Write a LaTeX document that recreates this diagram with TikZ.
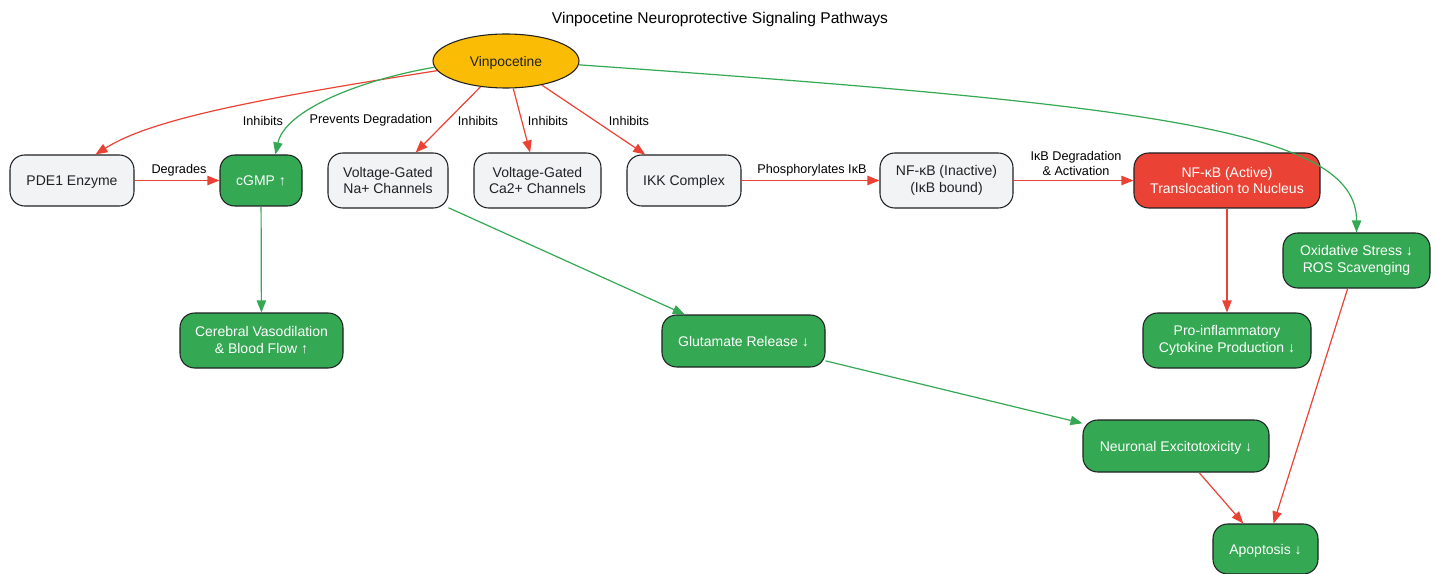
\documentclass[tikz,border=0pt]{standalone}
\usepackage{fontspec}
\setmainfont{Liberation Sans}
\usetikzlibrary{arrows.meta,shapes.geometric}
\definecolor{gred}{HTML}{EA4335}
\definecolor{ggreen}{HTML}{34A853}
\definecolor{ggold}{HTML}{FBBC05}
\definecolor{ggrey}{HTML}{F1F3F4}
\definecolor{gdark}{HTML}{202124}
\begin{document}
\begin{tikzpicture}[x=0.75pt,y=-0.75pt,
 box/.style={rounded corners=11pt, draw=gdark, line width=0.8pt, align=center, font=\fontsize{10.5}{12.7}\selectfont, inner sep=0pt},
 one/.style={text depth=0pt},
 greybox/.style={box, fill=ggrey, text=gdark},
 greenbox/.style={box, fill=ggreen, text=white},
 redbox/.style={box, fill=gred, text=white},
 arr/.style={-{Triangle[length=9pt,width=7pt]}, line width=0.9pt},
 redarr/.style={arr, draw=gred},
 greenarr/.style={arr, draw=ggreen},
 lbl/.style={font=\fontsize{9.5}{11.25}\selectfont, text=black, inner sep=0pt, align=center}]
\useasboundingbox[fill=white] (0,0) rectangle (1436,574);

\node[font=\fontsize{11.7}{13}\selectfont, text=black] (title) at (720,19) {Vinpocetine Neuroprotective Signaling Pathways};

\node[ellipse, draw=gdark, line width=0.8pt, fill=ggold, text=gdark, minimum width=109.5pt, minimum height=40.5pt, inner sep=0pt, font=\fontsize{10.4}{12}\selectfont, text depth=0pt] (vin) at (506,61) {Vinpocetine};

\node[greybox, one, minimum width=93pt, minimum height=38.25pt] (pde) at (72,180.5) {PDE1 Enzyme};
\node[greenbox, one, minimum width=61.5pt, minimum height=38.25pt] (cgmp) at (261,180.5) {cGMP ↑};
\node[greybox, minimum width=90pt, minimum height=41.25pt] (na) at (388,180.5) {Voltage-Gated\\Na+ Channels};
\node[greybox, minimum width=95.25pt, minimum height=41.25pt] (ca) at (537.5,180.5) {Voltage-Gated\\Ca2+ Channels};
\node[greybox, one, minimum width=85.5pt, minimum height=38.25pt] (ikk) at (684,180.5) {IKK Complex};
\node[greybox, minimum width=99.75pt, minimum height=41.25pt] (nfi) at (946.5,180.5) {NF-κB (Inactive)\\(IκB bound)};
\node[redbox, minimum width=139.5pt, minimum height=41.25pt] (nfa) at (1227,180.5) {NF-κB (Active)\\Translocation to Nucleus};
\node[greenbox, minimum width=110.25pt, minimum height=41.25pt] (ox) at (1356.5,260.5) {Oxidative Stress ↓\\ROS Scavenging};
\node[greenbox, minimum width=122.25pt, minimum height=41.25pt] (cer) at (261.5,340.5) {Cerebral Vasodilation\\\& Blood Flow ↑};
\node[greenbox, one, minimum width=122.25pt, minimum height=39pt] (glu) at (743.5,341) {Glutamate Release ↓};
\node[greenbox, minimum width=126pt, minimum height=41.25pt] (pro) at (1227,340.5) {Pro-inflammatory\\Cytokine Production ↓};
\node[greenbox, one, minimum width=139.5pt, minimum height=39pt] (neu) at (1176,446) {Neuronal Excitotoxicity ↓};
\node[greenbox, one, minimum width=78.75pt, minimum height=37.5pt] (apo) at (1265.5,549) {Apoptosis ↓};

% curved edges from Vinpocetine
\draw[redarr] (vin.188) .. controls (250,100) and (150,120) .. (pde.48);
\draw[greenarr] (vin.185) .. controls (360,80) and (285,110) .. (cgmp.61);
\draw[greenarr] (vin.-3) .. controls (1150,105) and (1357,130) .. (ox.north);
% straight edges
\draw[redarr] (vin) -- (na);
\draw[redarr] (vin) -- (ca);
\draw[redarr] (vin) -- (ikk);
\draw[redarr] (pde) -- (cgmp);
\draw[redarr] (ikk) -- (nfi);
\draw[redarr] (nfi) -- (nfa);
\draw[greenarr] (cgmp) -- (cer);
\draw[greenarr] (na) -- (glu);
\draw[greenarr] (glu) -- (neu);
\draw[redarr] (nfa) -- (pro);
\draw[redarr] (neu) -- (apo);
\draw[redarr] (ox) -- (apo);

% labels
\node[lbl] (l1) at (263,120.5) {Inhibits};
\node[lbl] (l2) at (371,120.5) {Prevents Degradation};
\node[lbl] (l3) at (478,120.5) {Inhibits};
\node[lbl] (l4) at (548,120.5) {Inhibits};
\node[lbl] (l5) at (629,120.5) {Inhibits};
\node[lbl] (l6) at (179,170.5) {Degrades};
\node[lbl] (l7) at (812,170.5) {Phosphorylates IκB};
\node[lbl] (l8) at (1076,163) {IκB Degradation\\\& Activation};
\end{tikzpicture}
\end{document}
